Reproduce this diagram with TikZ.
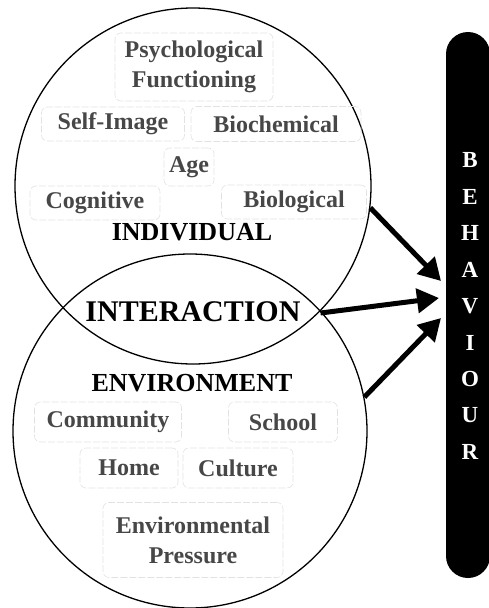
\documentclass[tikz,border=0pt]{standalone}
\usepackage{fontspec}
\setmainfont{Liberation Serif}
\usetikzlibrary{arrows.meta}
\definecolor{factorgray}{HTML}{474747}
\definecolor{framegray}{HTML}{E2E2E2}
\begin{document}
\begin{tikzpicture}[x=1pt,y=-1pt,
  factor/.style={draw=framegray, line width=0.6pt, dash pattern=on 7pt off 2pt,
    rounded corners=6pt, text=factorgray, align=center, inner sep=0pt,
    font=\fontsize{24}{30}\selectfont\bfseries},
  heading/.style={inner sep=0pt, font=\fontsize{26}{30}\selectfont\bfseries},
  ring/.style={circle, draw, line width=1.3pt, inner sep=0pt},
  letter/.style={text=white, inner sep=0pt, font=\fontsize{23}{26}\selectfont\bfseries},
  push/.style={line width=5pt, -{Triangle[length=22pt, width=24pt]}}]

\useasboundingbox (0,0) rectangle (489,608);

% the two overlapping spheres
\node[ring, minimum size=356pt] (indc) at (193,186) {};
\node[ring, minimum size=354pt] (envc) at (190,431) {};
\coordinate (ix) at (320.5,313);

% individual factors
\node[factor, minimum width=158pt, minimum height=68pt] (psy) at (194,67)
  {Psychological\\Functioning};
\node[factor, minimum width=143pt, minimum height=34pt] (self) at (113,124) {Self-Image};
\node[factor, minimum width=170pt, minimum height=35pt] (bioch) at (276,124) {Biochemical};
\node[factor, minimum width=50pt, minimum height=38pt] (age) at (189,167) {Age};
\node[factor, minimum width=130pt, minimum height=34pt] (cog) at (95,203) {Cognitive};
\node[factor, minimum width=145pt, minimum height=34pt] (biol) at (294,202) {Biological};
\node[heading] (indiv) at (192,232) {INDIVIDUAL};

\node[inner sep=0pt, font=\fontsize{30}{32}\selectfont\bfseries] (inter) at (193,312) {INTERACTION};

% environmental factors
\node[heading] (env) at (192,383) {ENVIRONMENT};
\node[factor, minimum width=147pt, minimum height=40pt] (comm) at (108,422) {Community};
\node[factor, minimum width=109pt, minimum height=40pt] (school) at (283,422) {School};
\node[factor, minimum width=98pt, minimum height=40pt] (home) at (129,468) {Home};
\node[factor, minimum width=110pt, minimum height=40pt] (cult) at (238,468) {Culture};
\node[factor, minimum width=180pt, minimum height=75pt] (press) at (193,540)
  {Environmental\\Pressure};

% behaviour bar
\node[fill=black, rounded corners=22pt, minimum width=44pt, minimum height=546pt,
  inner sep=0pt] (bar) at (468,305) {};
\foreach \ch [count=\i from 0] in {B,E,H,A,V,I,O,U,R}
  \node[letter] (l\i) at (470,{160+36.5*\i}) {\ch};

% influences on behaviour
\coordinate (t1) at (441,281);
\coordinate (t2) at (439,298);
\coordinate (t3) at (441,318);
\draw[push] (indc.-7) -- (t1);
\draw[push] (ix) -- (t2);
\draw[push] (envc.11) -- (t3);
\end{tikzpicture}
\end{document}
